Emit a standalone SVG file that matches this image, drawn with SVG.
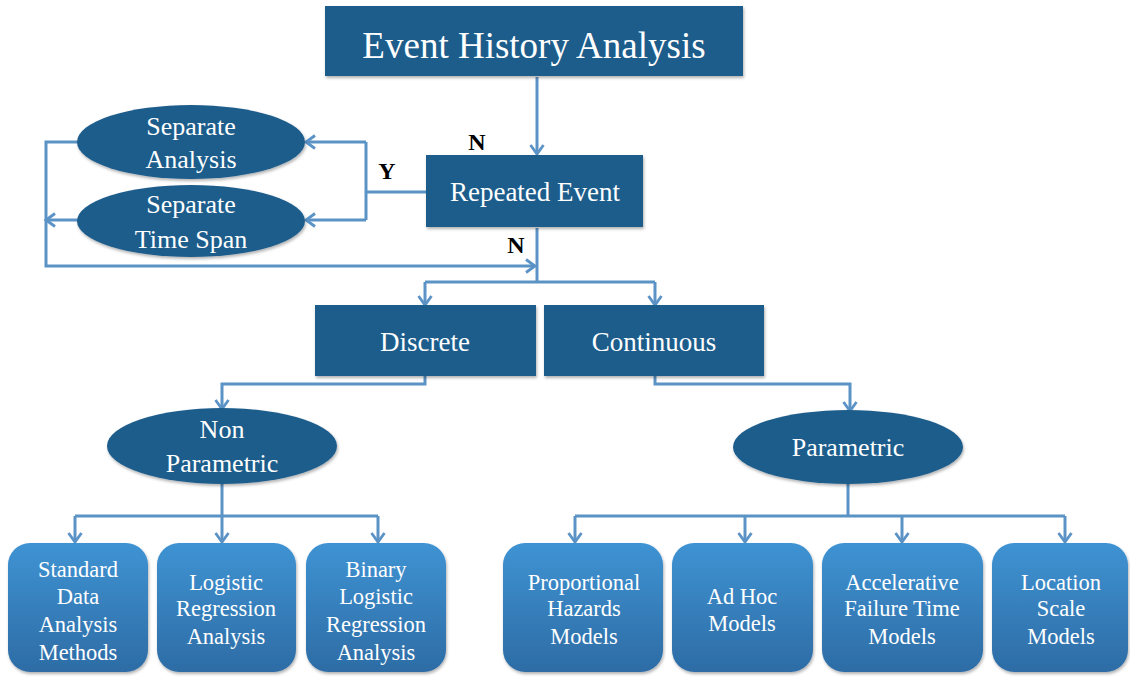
<svg xmlns="http://www.w3.org/2000/svg" width="1130" height="677" viewBox="0 0 1130 677">
<defs>
<style>
.dk{fill:#1f5d8c;filter:url(#sh)}
.lt{fill:url(#g);filter:url(#sh)}
.t{font-family:"Liberation Serif","Times New Roman",serif;fill:#fff;text-anchor:middle}
.lab{font-family:"Liberation Serif","Times New Roman",serif;fill:#000;font-weight:bold;font-size:24px;text-anchor:middle}
.c{fill:none;stroke:#5b93c6;stroke-width:3}
.a{marker-end:url(#arr)}
</style>
<linearGradient id="g" x1="0" y1="0" x2="0" y2="1">
<stop offset="0" stop-color="#3f93d3"/>
<stop offset="1" stop-color="#2d6ca5"/>
</linearGradient>
<filter id="sh" x="-10%" y="-10%" width="120%" height="125%">
<feDropShadow dx="1" dy="2" stdDeviation="1.5" flood-color="#000" flood-opacity="0.3"/>
</filter>
<marker id="arr" markerUnits="userSpaceOnUse" markerWidth="16" markerHeight="16" viewBox="0 0 16 16" refX="13" refY="8" orient="auto">
<path d="M4,1.5 L13,8 L4,14.5" fill="none" stroke="#5b93c6" stroke-width="2.8"/>
</marker>
</defs>
<rect width="1130" height="677" fill="#fff"/>

<g id="connectors">
<path class="c a" d="M537,77 V154"/>
<path class="c" d="M426,192 H366"/>
<path class="c" d="M366,142 V220"/>
<path class="c a" d="M366,142 H306"/>
<path class="c a" d="M366,220 H306"/>
<path class="c a" d="M78,142 H46 V266 H535"/>
<path class="c a" d="M78,220 H46"/>
<path class="c" d="M537,228 V282"/>
<path class="c" d="M425,282 H655"/>
<path class="c a" d="M425,282 V305"/>
<path class="c a" d="M655,282 V305"/>
<path class="c a" d="M425,376 V384 H222 V409"/>
<path class="c a" d="M655,376 V384 H850 V411"/>
<path class="c" d="M222,484 V516"/>
<path class="c" d="M75,516 H378"/>
<path class="c a" d="M75,516 V542"/>
<path class="c a" d="M222,516 V542"/>
<path class="c a" d="M378,516 V542"/>
<path class="c" d="M848,483 V516"/>
<path class="c" d="M575,516 H1065"/>
<path class="c a" d="M575,516 V542"/>
<path class="c a" d="M745,516 V542"/>
<path class="c a" d="M902,516 V542"/>
<path class="c a" d="M1065,516 V542"/>
</g>

<g id="labels">
<text class="lab" x="477" y="150">N</text>
<text class="lab" x="387" y="179">Y</text>
<text class="lab" x="516" y="253">N</text>
</g>

<g id="n-title">
<rect class="dk" x="325" y="6" width="418" height="70"/>
<text class="t" x="534" y="58" font-size="37">Event History Analysis</text>
</g>

<g id="n-repeated">
<rect class="dk" x="426" y="155" width="217" height="72"/>
<text class="t" x="535" y="201" font-size="27">Repeated Event</text>
</g>

<g id="n-sepanalysis">
<ellipse class="dk" cx="191" cy="142" rx="114" ry="37"/>
<text class="t" x="191" y="135" font-size="26">Separate</text>
<text class="t" x="191" y="168" font-size="26">Analysis</text>
</g>

<g id="n-septimespan">
<ellipse class="dk" cx="191" cy="221" rx="114" ry="36"/>
<text class="t" x="191" y="213" font-size="26">Separate</text>
<text class="t" x="191" y="248" font-size="26">Time Span</text>
</g>

<g id="n-discrete">
<rect class="dk" x="315" y="305" width="221" height="71"/>
<text class="t" x="425" y="351" font-size="27">Discrete</text>
</g>

<g id="n-continuous">
<rect class="dk" x="544" y="305" width="220" height="71"/>
<text class="t" x="654" y="351" font-size="27">Continuous</text>
</g>

<g id="n-nonparametric">
<ellipse class="dk" cx="222" cy="446" rx="115" ry="38"/>
<text class="t" x="222" y="438" font-size="26">Non</text>
<text class="t" x="222" y="472" font-size="26">Parametric</text>
</g>

<g id="n-parametric">
<ellipse class="dk" cx="848" cy="447" rx="115" ry="37"/>
<text class="t" x="848" y="456" font-size="26">Parametric</text>
</g>

<g id="n-standard">
<rect class="lt" x="8" y="543" width="140" height="129" rx="22"/>
<text class="t" x="78" font-size="22.5"><tspan x="78" y="577">Standard</tspan><tspan x="78" y="604">Data</tspan><tspan x="78" y="632">Analysis</tspan><tspan x="78" y="660">Methods</tspan></text>
</g>

<g id="n-logistic">
<rect class="lt" x="157" y="543" width="139" height="129" rx="22"/>
<text class="t" x="226" font-size="22.5"><tspan x="226" y="590">Logistic</tspan><tspan x="226" y="616">Regression</tspan><tspan x="226" y="644">Analysis</tspan></text>
</g>

<g id="n-binary">
<rect class="lt" x="306" y="543" width="140" height="129" rx="22"/>
<text class="t" x="376" font-size="22.5"><tspan x="376" y="577">Binary</tspan><tspan x="376" y="604">Logistic</tspan><tspan x="376" y="632">Regression</tspan><tspan x="376" y="660">Analysis</tspan></text>
</g>

<g id="n-proportional">
<rect class="lt" x="503" y="543" width="160" height="129" rx="22"/>
<text class="t" x="584" font-size="22.5"><tspan x="584" y="590">Proportional</tspan><tspan x="584" y="616">Hazards</tspan><tspan x="584" y="644">Models</tspan></text>
</g>

<g id="n-adhoc">
<rect class="lt" x="672" y="543" width="141" height="129" rx="22"/>
<text class="t" x="742" font-size="22.5"><tspan x="742" y="604">Ad Hoc</tspan><tspan x="742" y="631">Models</tspan></text>
</g>

<g id="n-accelerative">
<rect class="lt" x="822" y="543" width="161" height="129" rx="22"/>
<text class="t" x="902" font-size="22.5"><tspan x="902" y="590">Accelerative</tspan><tspan x="902" y="616">Failure Time</tspan><tspan x="902" y="644">Models</tspan></text>
</g>

<g id="n-location">
<rect class="lt" x="992" y="543" width="136" height="129" rx="22"/>
<text class="t" x="1061" font-size="22.5"><tspan x="1061" y="590">Location</tspan><tspan x="1061" y="616">Scale</tspan><tspan x="1061" y="644">Models</tspan></text>
</g>
</svg>
